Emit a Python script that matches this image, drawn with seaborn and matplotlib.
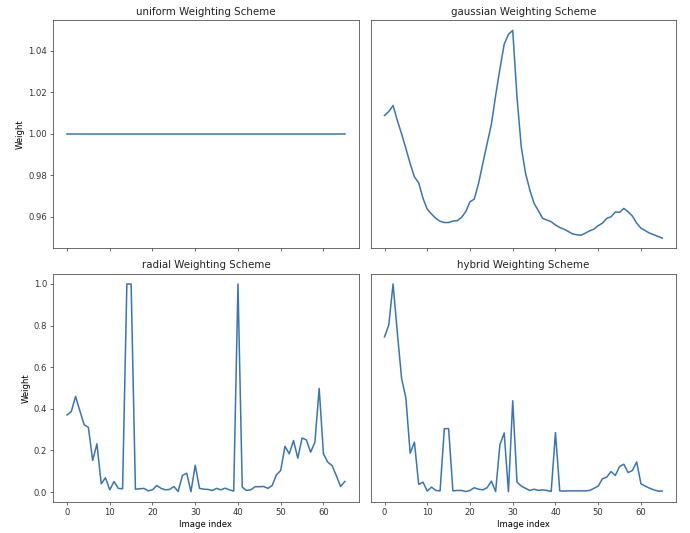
import numpy as np
import pandas as pd
import matplotlib
matplotlib.use("Agg")
import matplotlib.pyplot as plt
import seaborn as sns

schemes = ["uniform", "gaussian", "radial", "hybrid"]

uniform_w = [1.0] * 66

gaussian_w = [
    1.0089, 1.0108, 1.0137, 1.0065, 1.0000, 0.9930, 0.9857, 0.9793, 0.9764, 0.9690,
    0.9637, 0.9614, 0.9593, 0.9579, 0.9573, 0.9573, 0.9580, 0.9582, 0.9597, 0.9625,
    0.9673, 0.9686, 0.9761, 0.9857, 0.9953, 1.0046, 1.0185, 1.0313, 1.0432, 1.0480,
    1.0499, 1.0177, 0.9937, 0.9810, 0.9730, 0.9665, 0.9630, 0.9593, 0.9585, 0.9577,
    0.9561, 0.9549, 0.9541, 0.9530, 0.9518, 0.9514, 0.9512, 0.9522, 0.9533, 0.9541,
    0.9558, 0.9570, 0.9593, 0.9601, 0.9624, 0.9622, 0.9641, 0.9625, 0.9604, 0.9570,
    0.9546, 0.9534, 0.9522, 0.9514, 0.9506, 0.9498,
]

radial_w = [
    0.371, 0.387, 0.460, 0.391, 0.324, 0.311, 0.152, 0.232, 0.040, 0.069,
    0.011, 0.051, 0.018, 0.016, 1.000, 1.000, 0.014, 0.016, 0.018, 0.006,
    0.011, 0.032, 0.018, 0.011, 0.013, 0.027, 0.003, 0.080, 0.091, 0.002,
    0.129, 0.018, 0.014, 0.013, 0.008, 0.018, 0.011, 0.019, 0.011, 0.005,
    1.000, 0.024, 0.008, 0.011, 0.026, 0.026, 0.027, 0.018, 0.032, 0.083,
    0.104, 0.220, 0.184, 0.248, 0.163, 0.260, 0.251, 0.192, 0.240, 0.498,
    0.184, 0.144, 0.128, 0.080, 0.027, 0.051,
]

hybrid_w = [
    0.746, 0.803, 1.000, 0.767, 0.546, 0.452, 0.187, 0.240, 0.037, 0.048,
    0.005, 0.024, 0.008, 0.006, 0.305, 0.305, 0.006, 0.008, 0.008, 0.003,
    0.008, 0.021, 0.014, 0.011, 0.021, 0.053, 0.003, 0.228, 0.284, 0.002,
    0.439, 0.048, 0.029, 0.018, 0.008, 0.014, 0.008, 0.011, 0.008, 0.003,
    0.286, 0.006, 0.005, 0.006, 0.006, 0.006, 0.006, 0.006, 0.008, 0.018,
    0.029, 0.064, 0.072, 0.099, 0.080, 0.123, 0.134, 0.094, 0.104, 0.145,
    0.040, 0.029, 0.019, 0.011, 0.005, 0.005,
]

weights = {
    "uniform": uniform_w,
    "gaussian": gaussian_w,
    "radial": radial_w,
    "hybrid": hybrid_w,
}

# the reference looks like a default matplotlib figure shrunk to ~0.6
plt.rcParams.update({
    "font.size": 6.1,
    "axes.titlesize": 7.4,
    "axes.titlepad": 3.7,
    "axes.labelpad": 2.4,
    "axes.linewidth": 0.55,
    "axes.edgecolor": "#444444",
    "xtick.major.size": 2.1,
    "ytick.major.size": 2.1,
    "xtick.major.pad": 2.1,
    "ytick.major.pad": 2.1,
    "xtick.major.width": 0.5,
    "ytick.major.width": 0.5,
    "text.color": "#222222",
    "xtick.color": "#333333",
    "ytick.color": "#333333",
})

fig, axes = plt.subplots(2, 2, figsize=(6.9, 5.33), dpi=100, sharex=True, sharey="row")

for ax, name in zip(axes.flat, schemes):
    df = pd.DataFrame({"idx": np.arange(len(weights[name])), "w": weights[name]})
    sns.lineplot(data=df, x="idx", y="w", ax=ax, color="#3a75b0", linewidth=1.1)
    ax.set_title(f"{name} Weighting Scheme")
    ax.set_xlabel("")
    ax.set_ylabel("")

for ax in axes[:, 0]:
    ax.set_ylabel("Weight")
for ax in axes[1, :]:
    ax.set_xlabel("Image index")
for ax in axes[:, 1]:
    ax.tick_params(axis="y", left=False, labelleft=False)

axes[0, 0].set_xticks([0, 10, 20, 30, 40, 50, 60])

fig.subplots_adjust(left=0.077, right=0.98, top=0.9625, bottom=0.058, wspace=0.039, hspace=0.11)
fig.savefig("out.png", dpi=100)
